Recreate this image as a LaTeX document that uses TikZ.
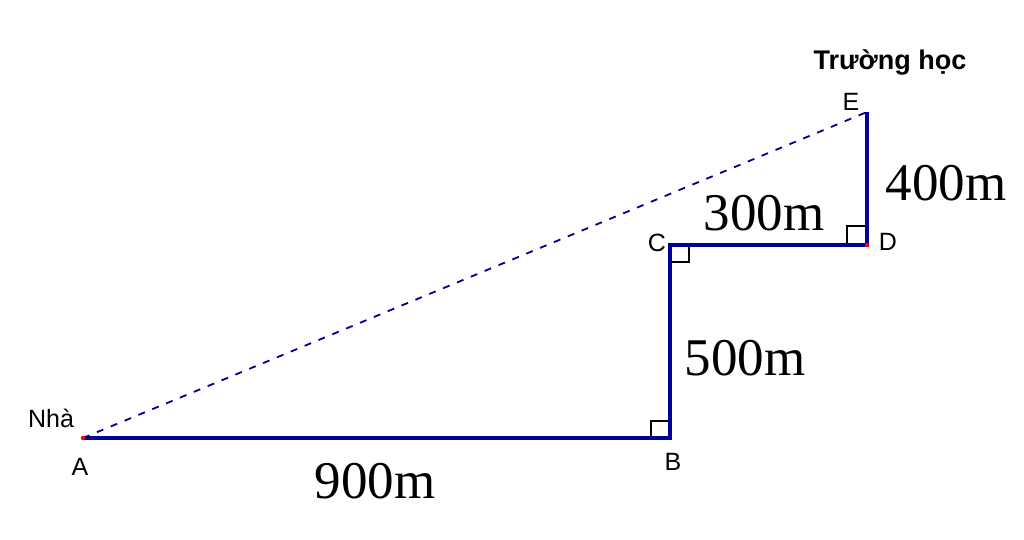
\documentclass[tikz,border=0pt]{standalone}
\usepackage{fontspec}
\setmainfont{Liberation Serif}
\newfontfamily\lsans{Liberation Sans}
\definecolor{segblue}{RGB}{0,0,150}
\begin{document}
\begin{tikzpicture}[x=1pt,y=-1pt,
  seg/.style={draw=segblue,line width=4pt},
  dashseg/.style={draw=segblue,line width=1.8pt,dash pattern=on 7pt off 8pt},
  ptlabel/.style={font=\lsans\fontsize{25}{25}\selectfont,inner sep=0pt},
  lenlabel/.style={font=\fontsize{53}{53}\selectfont,inner sep=0pt},
  rightmark/.style={draw=black,line width=2pt}]
\useasboundingbox (0,0) rectangle (1024,540);
\fill[white] (0,0) rectangle (1024,540);
\coordinate (A) at (83,438);
\coordinate (B) at (670,438);
\coordinate (C) at (670,245);
\coordinate (D) at (867,245);
\coordinate (E) at (867,112);
% right angle marks
\draw[rightmark] (651,438) -- (651,421) -- (670,421);
\draw[rightmark] (670,262) -- (689,262) -- (689,245);
\draw[rightmark] (847,245) -- (847,226) -- (867,226);
% segments
\draw[dashseg] (A) -- (E);
\draw[seg] (A) -- (B) -- (C) -- (D) -- (E);
\fill[red] (A) circle (2.2pt);
\fill[red] (D) circle (2.2pt);
% labels
\node[ptlabel] (lNha) at (51,418) {Nhà};
\node[ptlabel] (lA) at (80,467) {A};
\node[ptlabel] (lB) at (673,462) {B};
\node[ptlabel] (lC) at (657,243) {C};
\node[ptlabel] (lD) at (888,242) {D};
\node[ptlabel] (lE) at (851,102) {E};
\node[ptlabel,font=\lsans\bfseries\fontsize{27}{27}\selectfont] (lT) at (890,62) {Trường học};
\node[lenlabel] (l900) at (375,481) {900m};
\node[lenlabel] (l500) at (745,358) {500m};
\node[lenlabel] (l300) at (764,213) {300m};
\node[lenlabel] (l400) at (946,183) {400m};
\end{tikzpicture}
\end{document}
